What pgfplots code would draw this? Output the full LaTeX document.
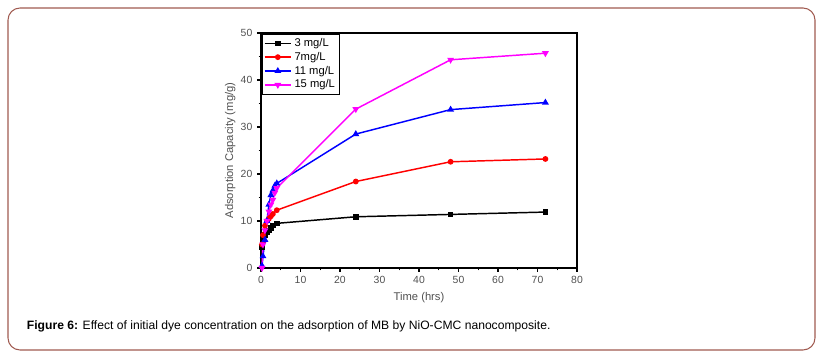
\documentclass[border=0pt]{standalone}
\usepackage{pgfplots}
\pgfplotsset{compat=1.18}
\usepackage{fontspec}
\setmainfont{Liberation Sans}
\definecolor{framec}{RGB}{160,90,80}
\definecolor{tickgray}{RGB}{80,80,80}
\definecolor{mag}{RGB}{255,0,255}
\begin{document}
\begin{tikzpicture}
\useasboundingbox (0,0) rectangle (616.5pt,270pt);
\draw[framec, line width=0.8pt, rounded corners=9pt] (6pt,7.5pt) rectangle (611.25pt,264pt);
\begin{axis}[
  at={(195.75pt,69pt)}, anchor=south west,
  scale only axis, width=237pt, height=176.25pt,
  xmin=0, xmax=80, ymin=0, ymax=50,
  xtick={0,10,...,80}, ytick={0,10,...,50},
  minor xtick={5,15,...,75}, minor ytick={5,15,...,45},
  tick align=outside, major tick length=3pt, minor tick length=1.8pt,
  xtick pos=bottom, ytick pos=left,
  axis line style={line width=1pt},
  every tick/.style={black, line width=0.8pt},
  tick label style={font=\fontsize{7.8}{8}\selectfont, text=tickgray},
  /pgf/number format/assume math mode=true,
  xlabel={Time (hrs)}, ylabel={Adsorption Capacity (mg/g)},
  label style={font=\fontsize{8.4}{9}\selectfont, text=tickgray},
  xlabel style={yshift=1pt}, ylabel style={yshift=-3pt},
  legend style={font=\fontsize{8.4}{9.2}\selectfont, draw=black, inner sep=1.2pt, row sep=-1.2pt, at={(0.003,0.997)}, anchor=north west},
  legend image post style={line width=1.1pt},
  legend image code/.code={\draw[mark repeat=2,mark phase=2] plot coordinates {(0cm,0cm) (0.35cm,0cm) (0.7cm,0cm)};},
  legend cell align=left,
  every axis plot/.append style={line width=1.1pt},
]
\addplot[black, mark=square*, mark size=1.5pt] coordinates {
(0.25,4.5)(0.5,6)(1,7)(1.5,7.5)(2,8)(2.5,8.5)(3,9)(4,9.5)(24,10.9)(48,11.4)(72,11.9)};
\addlegendentry{3 mg/L}
\addplot[red, mark=*, mark size=1.6pt] coordinates {
(0.25,5)(0.5,7)(1,9)(1.5,10)(2,10.5)(2.5,11)(3,11.5)(4,12.3)(24,18.4)(48,22.6)(72,23.2)};
\addlegendentry{7mg/L}
\addplot[blue, mark=triangle*, mark size=1.9pt] coordinates {
(0.25,0.5)(0.5,2.5)(1,6)(1.5,10)(2,13.5)(2.5,15.5)(3,16.5)(3.5,17.5)(4,18)(24,28.5)(48,33.7)(72,35.2)};
\addlegendentry{11 mg/L}
\addplot[mag, mark=triangle*, mark options={rotate=180}, mark size=1.9pt] coordinates {
(0.25,0)(0.5,5)(1,8)(1.5,10)(2,12)(2.5,13.5)(3,14.5)(3.5,16)(4,17)(24,33.8)(48,44.3)(72,45.7)};
\addlegendentry{15 mg/L}
\end{axis}
\node[anchor=base west, inner sep=0pt, font=\fontsize{9.1}{11}\selectfont] at (20pt,22.5pt) {\textbf{Figure 6:} Effect of initial dye concentration on the adsorption of MB by NiO-CMC nanocomposite.};
\end{tikzpicture}
\end{document}
